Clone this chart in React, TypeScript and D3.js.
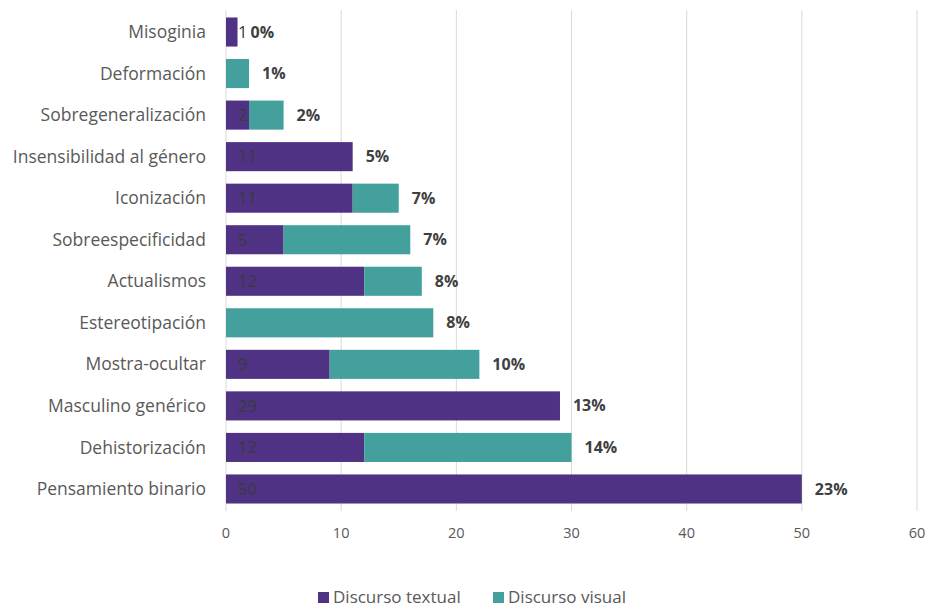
import React from "react";
import * as d3 from "d3";

const categories = [
  "Misoginia",
  "Deformación",
  "Sobregeneralización",
  "Insensibilidad al género",
  "Iconización",
  "Sobreespecificidad",
  "Actualismos",
  "Estereotipación",
  "Mostra-ocultar",
  "Masculino genérico",
  "Dehistorización",
  "Pensamiento binario",
];
const textual = [1, 0, 2, 11, 11, 5, 12, 0, 9, 29, 12, 50];
const visual = [0, 2, 3, 0, 4, 11, 5, 18, 13, 0, 18, 0];
const seriesNames = ["Discurso textual", "Discurso visual"];
const xTicks = [0, 10, 20, 30, 40, 50, 60];

const W = 928;
const H = 608;
const colors = ["#503285", "#43a09c"];
const FONT = "'Open Sans', Lato, sans-serif";

export default function App() {
  const x = d3.scaleLinear().domain([0, 60]).range([226, 917]);
  const y = d3
    .scaleBand<string>()
    .domain(categories)
    .range([11.25, 509.75])
    .paddingInner(0.3)
    .paddingOuter(0.15);
  const totals = categories.map((_, i) => textual[i] + visual[i]);
  const sum = d3.sum(totals);
  const pct = totals.map((t) => `${Math.round((t / sum) * 100)}%`);
  const bw = y.bandwidth();

  return (
    <svg
      width={W}
      height={H}
      style={{ position: "absolute", left: 0, top: 0, background: "#fff" }}
      fontFamily={FONT}
    >
      {xTicks.map((t) => (
        <line
          key={"g" + t}
          x1={x(t)}
          x2={x(t)}
          y1={10}
          y2={511}
          stroke="#d9d9d9"
          strokeWidth={1}
        />
      ))}
      {categories.map((c, i) => {
        const y0 = y(c)!;
        return (
          <g key={c}>
            {textual[i] > 0 && (
              <rect
                x={x(0)}
                y={y0}
                width={x(textual[i]) - x(0)}
                height={bw}
                fill={colors[0]}
              />
            )}
            {visual[i] > 0 && (
              <rect
                x={x(textual[i])}
                y={y0}
                width={x(textual[i] + visual[i]) - x(textual[i])}
                height={bw}
                fill={colors[1]}
              />
            )}
            <text
              x={206}
              y={y0 + bw / 2}
              dy="0.35em"
              textAnchor="end"
              fontSize={17.5}
              fill="#595959"
            >
              {c}
            </text>
            {textual[i] > 0 && (
              <text
                x={x(0) + 12}
                y={y0 + bw / 2}
                dy="0.35em"
                fontSize={16.5}
                fill="#3a3a3a"
              >
                {textual[i]}
              </text>
            )}
            <text
              x={x(totals[i]) + 13}
              y={y0 + bw / 2}
              dy="0.35em"
              fontSize={16}
              fontWeight="bold"
              fill="#404040"
            >
              {pct[i]}
            </text>
          </g>
        );
      })}
      {xTicks.map((t) => (
        <text
          key={"t" + t}
          x={x(t)}
          y={533}
          dy="0.35em"
          textAnchor="middle"
          fontSize={14.5}
          fill="#595959"
        >
          {t}
        </text>
      ))}
      <g>
        <rect x={318} y={592} width={11} height={11} fill={colors[0]} />
        <text x={333} y={597} dy="0.35em" fontSize={17} fill="#595959">
          {seriesNames[0]}
        </text>
        <rect x={493} y={592} width={11} height={11} fill={colors[1]} />
        <text x={508} y={597} dy="0.35em" fontSize={17} fill="#595959">
          {seriesNames[1]}
        </text>
      </g>
    </svg>
  );
}
